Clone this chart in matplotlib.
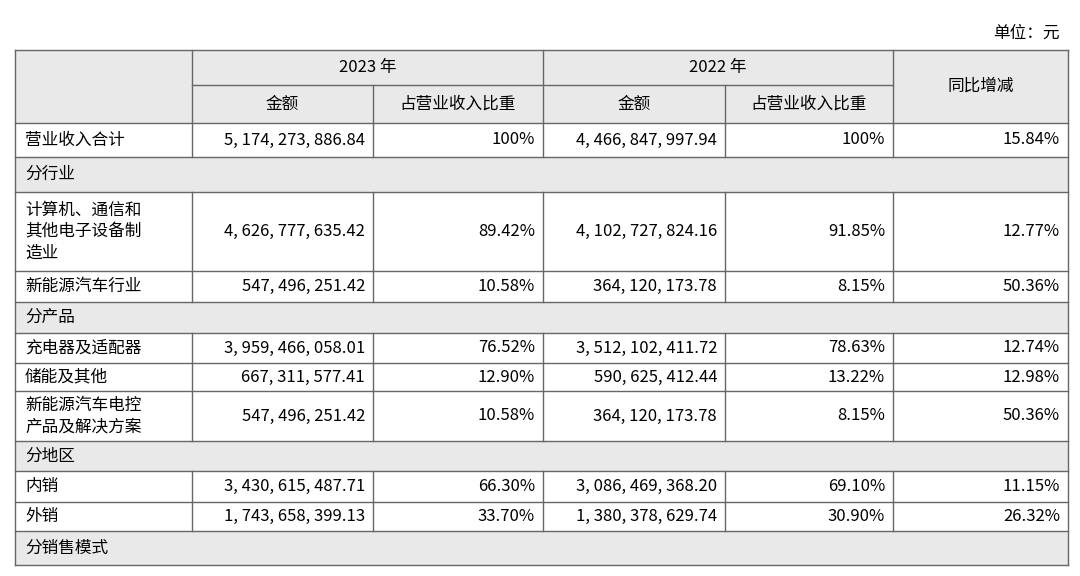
import matplotlib
matplotlib.use("Agg")
import matplotlib.pyplot as plt
from matplotlib.patches import Rectangle

plt.rcParams['font.family'] = ['Noto Sans CJK SC', 'DejaVu Sans']

unit_text = "单位：元"
years = ["2023 年", "2022 年"]
sub_headers = ["金额", "占营业收入比重", "金额", "占营业收入比重"]
yoy_header = "同比增减"

row_labels = ["营业收入合计", "分行业", "计算机、通信和\n其他电子设备制\n造业", "新能源汽车行业",
              "分产品", "充电器及适配器", "储能及其他", "新能源汽车电控\n产品及解决方案",
              "分地区", "内销", "外销", "分销售模式"]
amount_2023 = ["5,174,273,886.84", None, "4,626,777,635.42", "547,496,251.42", None,
               "3,959,466,058.01", "667,311,577.41", "547,496,251.42", None,
               "3,430,615,487.71", "1,743,658,399.13", None]
share_2023 = ["100%", None, "89.42%", "10.58%", None, "76.52%", "12.90%", "10.58%", None,
              "66.30%", "33.70%", None]
amount_2022 = ["4,466,847,997.94", None, "4,102,727,824.16", "364,120,173.78", None,
               "3,512,102,411.72", "590,625,412.44", "364,120,173.78", None,
               "3,086,469,368.20", "1,380,378,629.74", None]
share_2022 = ["100%", None, "91.85%", "8.15%", None, "78.63%", "13.22%", "8.15%", None,
              "69.10%", "30.90%", None]
yoy = ["15.84%", None, "12.77%", "50.36%", None, "12.74%", "12.98%", "50.36%", None,
       "11.15%", "26.32%", None]

W, H = 1080, 576
fig = plt.figure(figsize=(W/100, H/100), dpi=100)
ax = fig.add_axes([0, 0, 1, 1])
ax.set_xlim(0, W); ax.set_ylim(H, 0); ax.axis('off')

xs = [15, 192, 373, 543, 725, 893, 1068]
row_y = [123, 157, 192, 271, 302, 333, 363, 391, 441, 471, 502, 531, 565]
hy = [50, 85, 123]
gray = "#e9e9e9"
line = "#666666"
fs = 12

def fmt(s):
    return s.replace(",", ", ")

ax.text(1060, 33, unit_text, ha='right', va='center', fontsize=fs)
# header fill
ax.add_patch(Rectangle((xs[0], hy[0]), xs[-1]-xs[0], hy[2]-hy[0], fc=gray, ec='none'))
for i, lab in enumerate(row_labels):
    y0, y1 = row_y[i], row_y[i+1]
    if amount_2023[i] is None:
        ax.add_patch(Rectangle((xs[0], y0), xs[-1]-xs[0], y1-y0, fc=gray, ec='none'))
        ax.text(xs[0]+10, (y0+y1)/2, lab, ha='left', va='center', fontsize=fs)
        continue
    ax.text(xs[0]+10, (y0+y1)/2, lab, ha='left', va='center', fontsize=fs, linespacing=1.35)
    vals = [fmt(amount_2023[i]), share_2023[i], fmt(amount_2022[i]), share_2022[i], yoy[i]]
    for j, v in enumerate(vals):
        ax.text(xs[j+2]-8, (y0+y1)/2, v, ha='right', va='center', fontsize=fs)

# header texts
ax.text((xs[1]+xs[3])/2, (hy[0]+hy[1])/2, years[0], ha='center', va='center', fontsize=fs)
ax.text((xs[3]+xs[5])/2, (hy[0]+hy[1])/2, years[1], ha='center', va='center', fontsize=fs)
for j, s in enumerate(sub_headers):
    ax.text((xs[j+1]+xs[j+2])/2, (hy[1]+hy[2])/2, s, ha='center', va='center', fontsize=fs)
ax.text((xs[5]+xs[6])/2, (hy[0]+hy[2])/2, yoy_header, ha='center', va='center', fontsize=fs)

lw = 1.0
# outer border and horizontal lines
ax.plot([xs[0], xs[-1]], [hy[0], hy[0]], color=line, lw=lw)
ax.plot([xs[1], xs[5]], [hy[1], hy[1]], color=line, lw=lw)
for y in row_y:
    ax.plot([xs[0], xs[-1]], [y, y], color=line, lw=lw)
# verticals
ax.plot([xs[0], xs[0]], [hy[0], row_y[-1]], color=line, lw=lw)
ax.plot([xs[-1], xs[-1]], [hy[0], row_y[-1]], color=line, lw=lw)
for x in [xs[1], xs[3], xs[5]]:
    ax.plot([x, x], [hy[0], hy[2]], color=line, lw=lw)
for x in [xs[2], xs[4]]:
    ax.plot([x, x], [hy[1], hy[2]], color=line, lw=lw)
for i in range(len(row_labels)):
    if amount_2023[i] is None:
        continue
    for x in xs[1:-1]:
        ax.plot([x, x], [row_y[i], row_y[i+1]], color=line, lw=lw)

fig.savefig("out.png", dpi=100)
